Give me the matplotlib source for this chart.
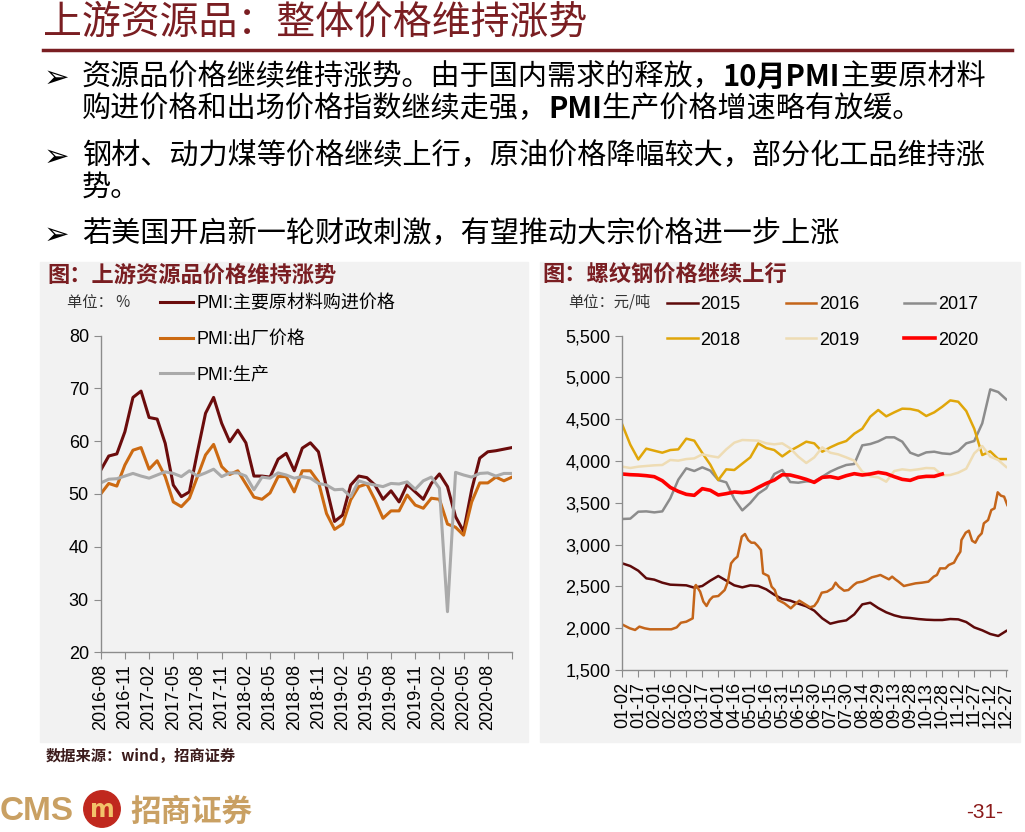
import numpy as np
import matplotlib.pyplot as plt
from matplotlib.patches import Rectangle, Circle
from matplotlib.lines import Line2D
from matplotlib.ticker import FuncFormatter

plt.rcParams['font.family'] = ['Noto Sans CJK SC', 'DejaVu Sans']

# ---- left chart data: PMI price sub-indices (monthly) ----
pmi_ticks = ["2016-08", "2016-11", "2017-02", "2017-05", "2017-08", "2017-11",
             "2018-02", "2018-05", "2018-08", "2018-11", "2019-02", "2019-05",
             "2019-08", "2019-11", "2020-02", "2020-05", "2020-08", ""]
pmi_purchase = [54.5, 57.2, 57.6, 61.8, 68.3, 69.5, 64.5, 64.2, 59.6, 51.7,
                49.5, 50.4, 58.0, 65.3, 68.3, 63.4, 59.9, 62.1, 59.7, 53.4,
                53.4, 53.2, 56.6, 57.7, 54.4, 58.7, 59.7, 58.0, 51.2, 44.8,
                46.0, 51.7, 53.4, 53.1, 51.7, 49.0, 50.6, 48.5, 51.8, 50.4,
                49.0, 52.0, 53.8, 51.4, 45.7, 42.9, 50.8, 56.8, 58.0, 58.2,
                58.5, 58.8]
pmi_output = [50.0, 52.0, 51.5, 55.5, 58.3, 58.8, 54.7, 56.3, 53.3, 48.5,
              47.6, 49.2, 53.3, 57.4, 59.4, 55.2, 53.7, 54.4, 51.9, 49.4,
              49.0, 50.2, 53.3, 53.3, 50.4, 54.4, 54.4, 52.3, 46.3, 43.3,
              44.3, 48.9, 51.4, 51.9, 48.9, 45.4, 46.8, 46.8, 49.8, 47.9,
              47.3, 49.2, 49.0, 44.3, 43.7, 42.2, 48.5, 52.1, 52.1, 53.2,
              52.5, 53.2]
pmi_prod = [52.1, 52.8, 52.9, 53.4, 53.9, 53.4, 53.0, 53.6, 54.2, 53.9,
            53.3, 54.4, 53.4, 54.0, 54.7, 53.3, 54.0, 54.0, 53.4, 50.8,
            53.2, 53.0, 54.0, 53.6, 53.0, 53.3, 53.0, 52.0, 51.7, 50.8,
            50.9, 49.5, 52.5, 52.0, 51.7, 51.4, 52.0, 51.9, 52.3, 50.9,
            52.5, 53.2, 51.1, 27.7, 54.1, 53.6, 53.2, 53.9, 54.0, 53.4,
            53.9, 53.9]

# ---- right chart data: rebar price by year (yuan/ton) ----
rebar_ticks = ["01-02", "01-17", "02-01", "02-16", "03-02", "03-17", "04-01",
               "04-16", "05-01", "05-16", "05-31", "06-15", "06-30", "07-15",
               "07-30", "08-14", "08-29", "09-13", "09-28", "10-13", "10-28",
               "11-12", "11-27", "12-12", "12-27"]
rebar_days = np.arange(49) * 7.5   # days after Jan 2
p2015 = [2776, 2744, 2688, 2597, 2581, 2545, 2521, 2517, 2513, 2485,
         2505, 2569, 2625, 2569, 2513, 2489, 2513, 2505, 2465, 2401,
         2349, 2330, 2294, 2262, 2210, 2118, 2054, 2078, 2094, 2166,
         2285, 2305, 2241, 2190, 2154, 2130, 2122, 2110, 2102, 2098,
         2098, 2110, 2106, 2074, 2010, 1975, 1931, 1907, 1967]
d2016 = [0, 7, 12, 16, 21, 26, 46, 51, 55, 60, 63, 66, 68, 69, 73, 76, 79, 82,
         85, 90, 96, 99, 102, 105, 108, 112, 115, 118, 121, 124, 127, 130, 132,
         137, 140, 143, 146, 152, 158, 163, 166, 171, 176, 180, 183, 187, 192,
         197, 200, 203, 208, 212, 217, 220, 225, 229, 234, 239, 242, 245, 250,
         253, 256, 259, 264, 268, 275, 281, 287, 292, 295, 298, 303, 306, 311,
         314, 317, 318, 322, 325, 328, 331, 334, 337, 339, 343, 346, 349, 352,
         355, 358, 361]
p2016 = [2044, 1999, 1979, 2019, 1999, 1987, 1987, 2010, 2066, 2078, 2098, 2118,
         2497, 2517, 2437, 2318, 2266, 2338, 2377, 2385, 2457, 2557, 2776, 2824,
         2856, 3095, 3127, 3055, 3023, 3023, 2984, 2936, 2657, 2625, 2497, 2457,
         2338, 2298, 2238, 2298, 2330, 2290, 2250, 2266, 2318, 2425, 2437, 2477,
         2545, 2497, 2449, 2457, 2517, 2545, 2557, 2577, 2609, 2625, 2637, 2617,
         2585, 2617, 2585, 2557, 2505, 2517, 2537, 2545, 2557, 2617, 2637, 2716,
         2716, 2756, 2784, 2856, 2916, 3055, 3143, 3167, 3047, 3023, 3095, 3135,
         3255, 3295, 3414, 3434, 3626, 3586, 3574, 3474]
p2017 = [3307, 3311, 3394, 3398, 3386, 3398, 3554, 3777, 3913, 3881,
         3925, 3885, 3773, 3745, 3546, 3410, 3498, 3610, 3674, 3845,
         3893, 3749, 3741, 3757, 3757, 3813, 3873, 3917, 3953, 3965,
         4188, 4204, 4236, 4284, 4284, 4232, 4100, 4064, 4104, 4112,
         4092, 4084, 4120, 4212, 4240, 4451, 4858, 4826, 4738]
p2018 = [4435, 4196, 4020, 4148, 4124, 4100, 4132, 4140, 4268, 4244,
         4096, 3957, 3773, 3901, 3893, 3969, 4044, 4212, 4156, 4132,
         4056, 4124, 4176, 4232, 4212, 4112, 4164, 4208, 4240, 4327,
         4387, 4531, 4611, 4535, 4583, 4627, 4623, 4603, 4539, 4583,
         4650, 4726, 4710, 4599, 4387, 4072, 4116, 4024, 4024]
p2019 = [3933, 3917, 3933, 3941, 3949, 3953, 4013, 4005, 4024, 4032,
         4080, 4060, 4044, 4140, 4220, 4252, 4248, 4244, 4212, 4200,
         4212, 4152, 4053, 3977, 4044, 4164, 4100, 4080, 4044, 4005,
         3873, 3817, 3805, 3753, 3881, 3901, 3889, 3901, 3917, 3913,
         3829, 3833, 3861, 3909, 4092, 4180, 4053, 4013, 3929]
p2020 = [3845, 3837, 3833, 3825, 3813, 3765, 3685, 3637, 3602, 3590,
         3670, 3650, 3594, 3610, 3630, 3622, 3634, 3685, 3733, 3773,
         3837, 3833, 3809, 3781, 3745, 3805, 3813, 3793, 3825, 3849,
         3833, 3845, 3865, 3849, 3813, 3781, 3769, 3805, 3817, 3817,
         3845]

DRED = '#7A1E22'
GOLD = '#C9A063'
PANEL = '#F2F2F2'
LATIN = ['Liberation Sans', 'Noto Sans CJK SC']

W, H = 1025, 832
fig = plt.figure(figsize=(W / 100, H / 100), dpi=100)
fig.patch.set_facecolor('white')


def fx(x):
    return x / W


def fy(y):
    return 1 - y / H


# header
fig.text(fx(43), fy(22), "上游资源品：整体价格维持涨势", fontsize=28,
         color=DRED, va='center', ha='left')
fig.add_artist(Line2D([fx(43), fx(1012)], [fy(50), fy(50)], color=DRED, lw=2.5))

renderer = fig.canvas.get_renderer()


def draw_runs(x, y, runs, size=21):
    cur = x
    for s, w in runs:
        t = fig.text(fx(cur), fy(y), s, fontsize=size, fontweight=w,
                     va='center', ha='left', color='black')
        cur = t.get_window_extent(renderer=renderer).x1


bullets = [
    (77, [("资源品价格继续维持涨势。由于国内需求的释放，", 'normal'),
          ("10月PMI", 'bold'), ("主要原材料", 'normal')], True),
    (109, [("购进价格和出场价格指数继续走强，", 'normal'), ("PMI", 'bold'),
           ("生产价格增速略有放缓。", 'normal')], False),
    (156, [("钢材、动力煤等价格继续上行，原油价格降幅较大，部分化工品维持涨", 'normal')], True),
    (188, [("势。", 'normal')], False),
    (234, [("若美国开启新一轮财政刺激，有望推动大宗价格进一步上涨", 'normal')], True),
]
for y, runs, mark in bullets:
    if mark:
        fig.text(fx(44), fy(y + 1), "➢", fontsize=22, family=['DejaVu Sans'],
                 va='center', ha='left', color='black')
    draw_runs(82, y, runs)

# panels
for x0, x1 in [(40, 528), (540, 1020)]:
    fig.add_artist(Rectangle((fx(x0), fy(742)), (x1 - x0) / W, (742 - 262) / H,
                             transform=fig.transFigure, color=PANEL, zorder=0))

fig.text(fx(47), fy(275), "图：上游资源品价格维持涨势", fontsize=16,
         color=DRED, weight='bold', va='center')
fig.text(fx(542), fy(275), "图：螺纹钢价格继续上行", fontsize=16,
         color=DRED, weight='bold', va='center')


def style_axes(ax):
    ax.set_facecolor('none')
    for s in ['top', 'right']:
        ax.spines[s].set_visible(False)
    for s in ['left', 'bottom']:
        ax.spines[s].set_color('#8C8C8C')
        ax.spines[s].set_linewidth(1.0)
    ax.tick_params(axis='both', length=5, color='#8C8C8C', labelsize=13,
                   labelfontfamily='Liberation Sans')
    ax.tick_params(axis='x', rotation=90)


# left chart
ax1 = fig.add_axes([fx(100.7), fy(652.3), 411.3 / W, 316.6 / H])
months = np.arange(len(pmi_purchase))
ax1.plot(months, pmi_purchase, color='#6B0C0C', lw=2.2, label='PMI:主要原材料购进价格')
ax1.plot(months, pmi_output, color='#CC6A12', lw=2.2, label='PMI:出厂价格')
ax1.plot(months, pmi_prod, color='#AAAAAA', lw=2.2, label='PMI:生产')
ax1.set_xlim(0, len(pmi_purchase) - 1)
ax1.set_ylim(20, 80)
ax1.set_yticks(range(20, 81, 10))
ax1.set_xticks(np.arange(0, len(pmi_purchase), 3))
ax1.set_xticklabels(pmi_ticks)
style_axes(ax1)
ax1.legend(loc='upper left', bbox_to_anchor=(fx(160), fy(295)),
           bbox_transform=fig.transFigure, frameon=False,
           prop={'family': LATIN, 'size': 13}, handlelength=1.85,
           handletextpad=0.15, labelspacing=1.03, borderpad=0, borderaxespad=0)
fig.text(fx(67), fy(302), "单位： %", fontsize=11, color='#333333', va='center')

# right chart
ax2 = fig.add_axes([fx(622.3), fy(670), 385 / W, 334.3 / H])
l15, = ax2.plot(rebar_days, p2015, color='#5E0A0A', lw=1.8, label='2015')
l16, = ax2.plot(d2016, p2016, color='#C4651A', lw=1.8, label='2016')
l17, = ax2.plot(rebar_days, p2017, color='#8C8C8C', lw=1.8, label='2017')
l18, = ax2.plot(rebar_days, p2018, color='#E0A60A', lw=1.8, label='2018')
l19, = ax2.plot(rebar_days, p2019, color='#EEDCB4', lw=1.8, label='2019')
l20, = ax2.plot(rebar_days[:len(p2020)], p2020, color='#FF0000', lw=2.6, label='2020')
ax2.set_xlim(0, 361)
ax2.set_ylim(1500, 5500)
ax2.set_yticks(range(1500, 5501, 500))
ax2.yaxis.set_major_formatter(FuncFormatter(lambda v, p: f"{int(v):,}"))
ax2.set_xticks(np.arange(0, 361, 15))
ax2.set_xticklabels(rebar_ticks)
style_axes(ax2)
hs = [l15, l18, l16, l19, l17, l20]
ax2.legend(hs, [h.get_label() for h in hs], ncol=3, loc='upper left',
           bbox_to_anchor=(fx(667), fy(296)), bbox_transform=fig.transFigure,
           frameon=False, prop={'family': LATIN, 'size': 13}, handlelength=1.7,
           handletextpad=0.15, labelspacing=1.03, columnspacing=2.5,
           borderpad=0, borderaxespad=0)
fig.text(fx(568), fy(302), "单位：元/吨", fontsize=11, color='#333333', va='center')

# footer
fig.text(fx(46), fy(756), "数据来源：wind，招商证券", fontsize=11,
         color='#3C1C1C', weight='bold', va='center')
fig.text(fx(0), fy(812), "CMS", fontsize=24, color=GOLD, weight='bold',
         family=['Liberation Sans'], va='center')
lax = fig.add_axes([fx(83), fy(828), 38 / W, 38 / H])
lax.set_xlim(0, 1)
lax.set_ylim(0, 1)
lax.axis('off')
lax.add_patch(Circle((0.5, 0.5), 0.48, color='#C0281E'))
lax.text(0.5, 0.47, "m", color='#F2C26A', fontsize=17, weight='bold',
         ha='center', va='center', family=['DejaVu Sans'])
fig.text(fx(130), fy(812), "招商证券", fontsize=22, color=GOLD, weight='bold',
         va='center')
fig.text(fx(1003), fy(812), "-31-", fontsize=15, color='#8B1A1A', ha='right',
         family=['Liberation Sans'], va='center')

fig.savefig("out.png", dpi=100, facecolor='white')
